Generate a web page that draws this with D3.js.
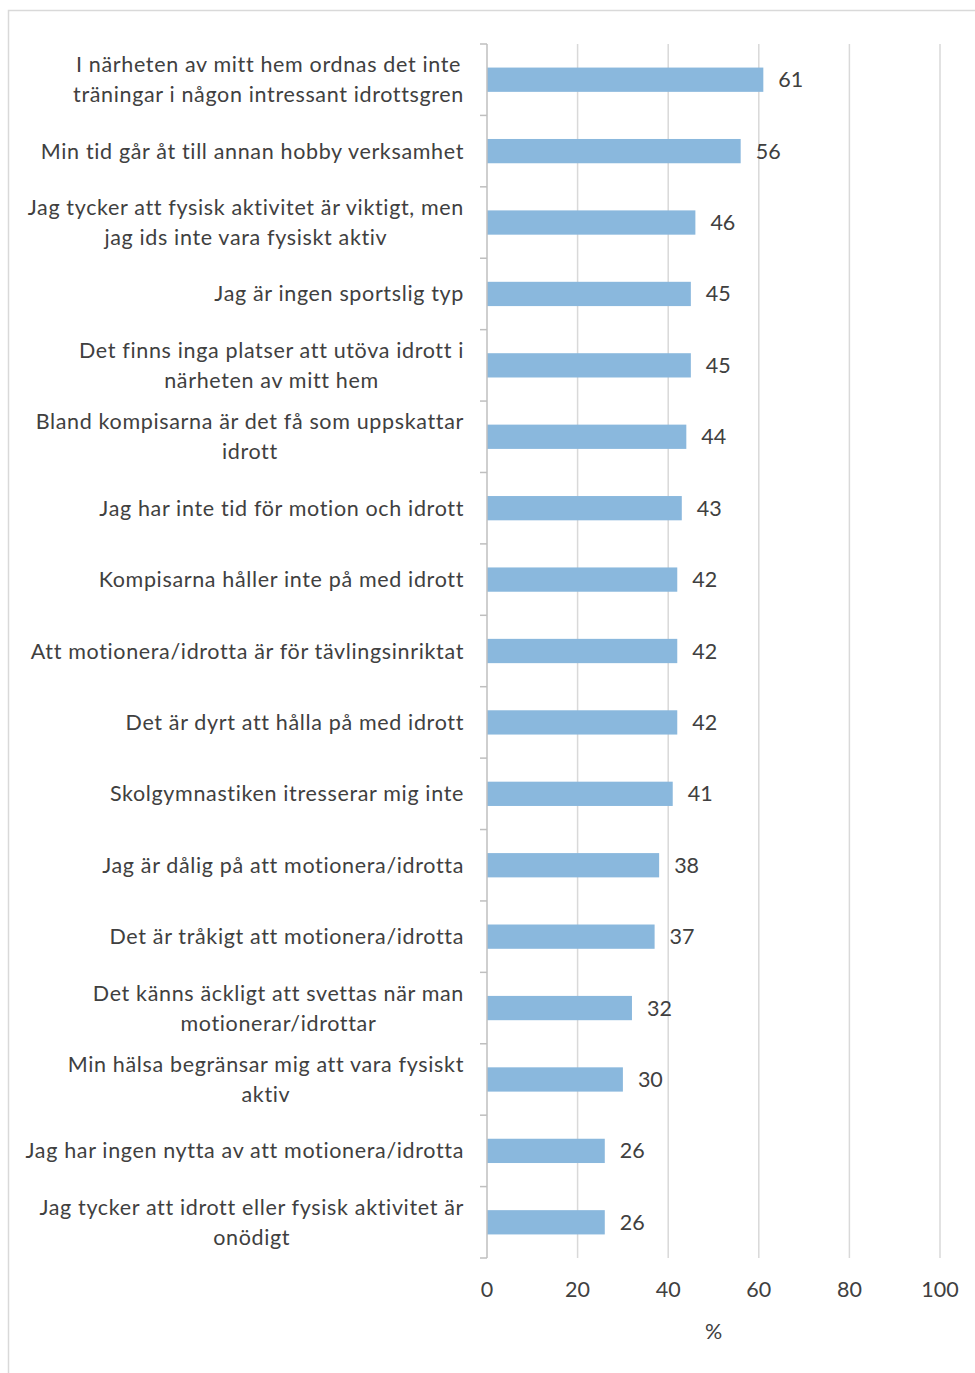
<!DOCTYPE html>
<html>
<head>
<meta charset="utf-8">
<script src="https://cdn.jsdelivr.net/npm/d3@7"></script>
<style>
  html, body { margin: 0; padding: 0; background: #fff; }
  svg text { font-family: Lato, "Liberation Sans", sans-serif; fill: #404040; }
</style>
</head>
<body>
<svg id="chart" width="975" height="1373"></svg>
<script>
// Reasons for not being physically active (%), one bar per statement
const categories = [
  "I närheten av mitt hem ordnas det inte\nträningar i någon intressant idrottsgren",
  "Min tid går åt till annan hobby verksamhet",
  "Jag tycker att fysisk aktivitet är viktigt, men\njag ids inte vara fysiskt aktiv",
  "Jag är ingen sportslig typ",
  "Det finns inga platser att utöva idrott i\nnärheten av mitt hem",
  "Bland kompisarna är det få som uppskattar\nidrott",
  "Jag har inte tid för motion och idrott",
  "Kompisarna håller inte på med idrott",
  "Att motionera/idrotta är för tävlingsinriktat",
  "Det är dyrt att hålla på med idrott",
  "Skolgymnastiken itresserar mig inte",
  "Jag är dålig på att motionera/idrotta",
  "Det är tråkigt att motionera/idrotta",
  "Det känns äckligt att svettas när man\nmotionerar/idrottar",
  "Min hälsa begränsar mig att vara fysiskt\naktiv",
  "Jag har ingen nytta av att motionera/idrotta",
  "Jag tycker att idrott eller fysisk aktivitet är\nonödigt"
];
const values = [61, 56, 46, 45, 45, 44, 43, 42, 42, 42, 41, 38, 37, 32, 30, 26, 26];
const xTicks = [0, 20, 40, 60, 80, 100];
const xTitle = "%";

const svg = d3.select("#chart");
const plot = { left: 487, right: 940, top: 44, bottom: 1258 };
const labelRight = 464;
const fontSize = 21.5;
const catSpacing = 0.65;

// Outer chart frame
svg.append("rect")
  .attr("x", 8.5).attr("y", 10.5)
  .attr("width", 975).attr("height", 1373)
  .attr("fill", "none").attr("stroke", "#d9d9d9").attr("stroke-width", 1.5);

const x = d3.scaleLinear().domain([0, 100]).range([plot.left, plot.right]);
const y = d3.scaleBand().domain(d3.range(categories.length))
  .range([plot.top, plot.bottom]).paddingInner(0.66).paddingOuter(0.33);
const step = y.step();

// Vertical gridlines
svg.append("g").selectAll("line")
  .data(xTicks.filter(t => t > 0))
  .join("line")
  .attr("x1", d => x(d)).attr("x2", d => x(d))
  .attr("y1", plot.top).attr("y2", plot.bottom)
  .attr("stroke", "#d9d9d9").attr("stroke-width", 1.5);

// Bars
svg.append("g").selectAll("rect")
  .data(values)
  .join("rect")
  .attr("x", x(0))
  .attr("y", (d, i) => y(i))
  .attr("width", d => x(d) - x(0))
  .attr("height", y.bandwidth())
  .attr("fill", "#8ab8dd");

// Category axis line and tick marks between categories
const yAxis = svg.append("g");
yAxis.append("line")
  .attr("x1", plot.left).attr("x2", plot.left)
  .attr("y1", plot.top).attr("y2", plot.bottom)
  .attr("stroke", "#bfbfbf").attr("stroke-width", 1.5);
yAxis.selectAll("line.tick")
  .data(d3.range(categories.length + 1))
  .join("line")
  .attr("class", "tick")
  .attr("x1", plot.left - 7).attr("x2", plot.left)
  .attr("y1", i => plot.top + i * step).attr("y2", i => plot.top + i * step)
  .attr("stroke", "#bfbfbf").attr("stroke-width", 1.5);

// Category labels: wrapped lines centred on the widest line, block right-aligned
const lineH = 30;
const labels = svg.append("g").selectAll("g")
  .data(categories)
  .join("g");
labels.each(function (d, i) {
  const g = d3.select(this);
  const lines = d.split("\n");
  const cy = y(i) + y.bandwidth() / 2;
  const texts = lines.map((ln, k) => g.append("text")
    .attr("font-size", fontSize)
    .attr("letter-spacing", catSpacing)
    .attr("text-anchor", "middle")
    .attr("y", cy + (k - (lines.length - 1) / 2) * lineH)
    .attr("dy", "0.35em")
    .text(ln));
  const maxW = d3.max(texts, t => t.node().getComputedTextLength());
  texts.forEach(t => t.attr("x", labelRight - maxW / 2));
});

// Value labels
svg.append("g").selectAll("text")
  .data(values)
  .join("text")
  .attr("x", d => x(d) + 15)
  .attr("y", (d, i) => y(i) + y.bandwidth() / 2)
  .attr("dy", "0.35em")
  .attr("font-size", fontSize)
  .text(d => d);

// Value axis tick labels
svg.append("g").selectAll("text")
  .data(xTicks)
  .join("text")
  .attr("x", d => x(d))
  .attr("y", 1289)
  .attr("dy", "0.35em")
  .attr("text-anchor", "middle")
  .attr("font-size", fontSize)
  .text(d => d);

// Value axis title
svg.append("text")
  .attr("x", (plot.left + plot.right) / 2)
  .attr("y", 1331)
  .attr("dy", "0.35em")
  .attr("text-anchor", "middle")
  .attr("font-size", fontSize)
  .text(xTitle);
</script>
</body>
</html>
